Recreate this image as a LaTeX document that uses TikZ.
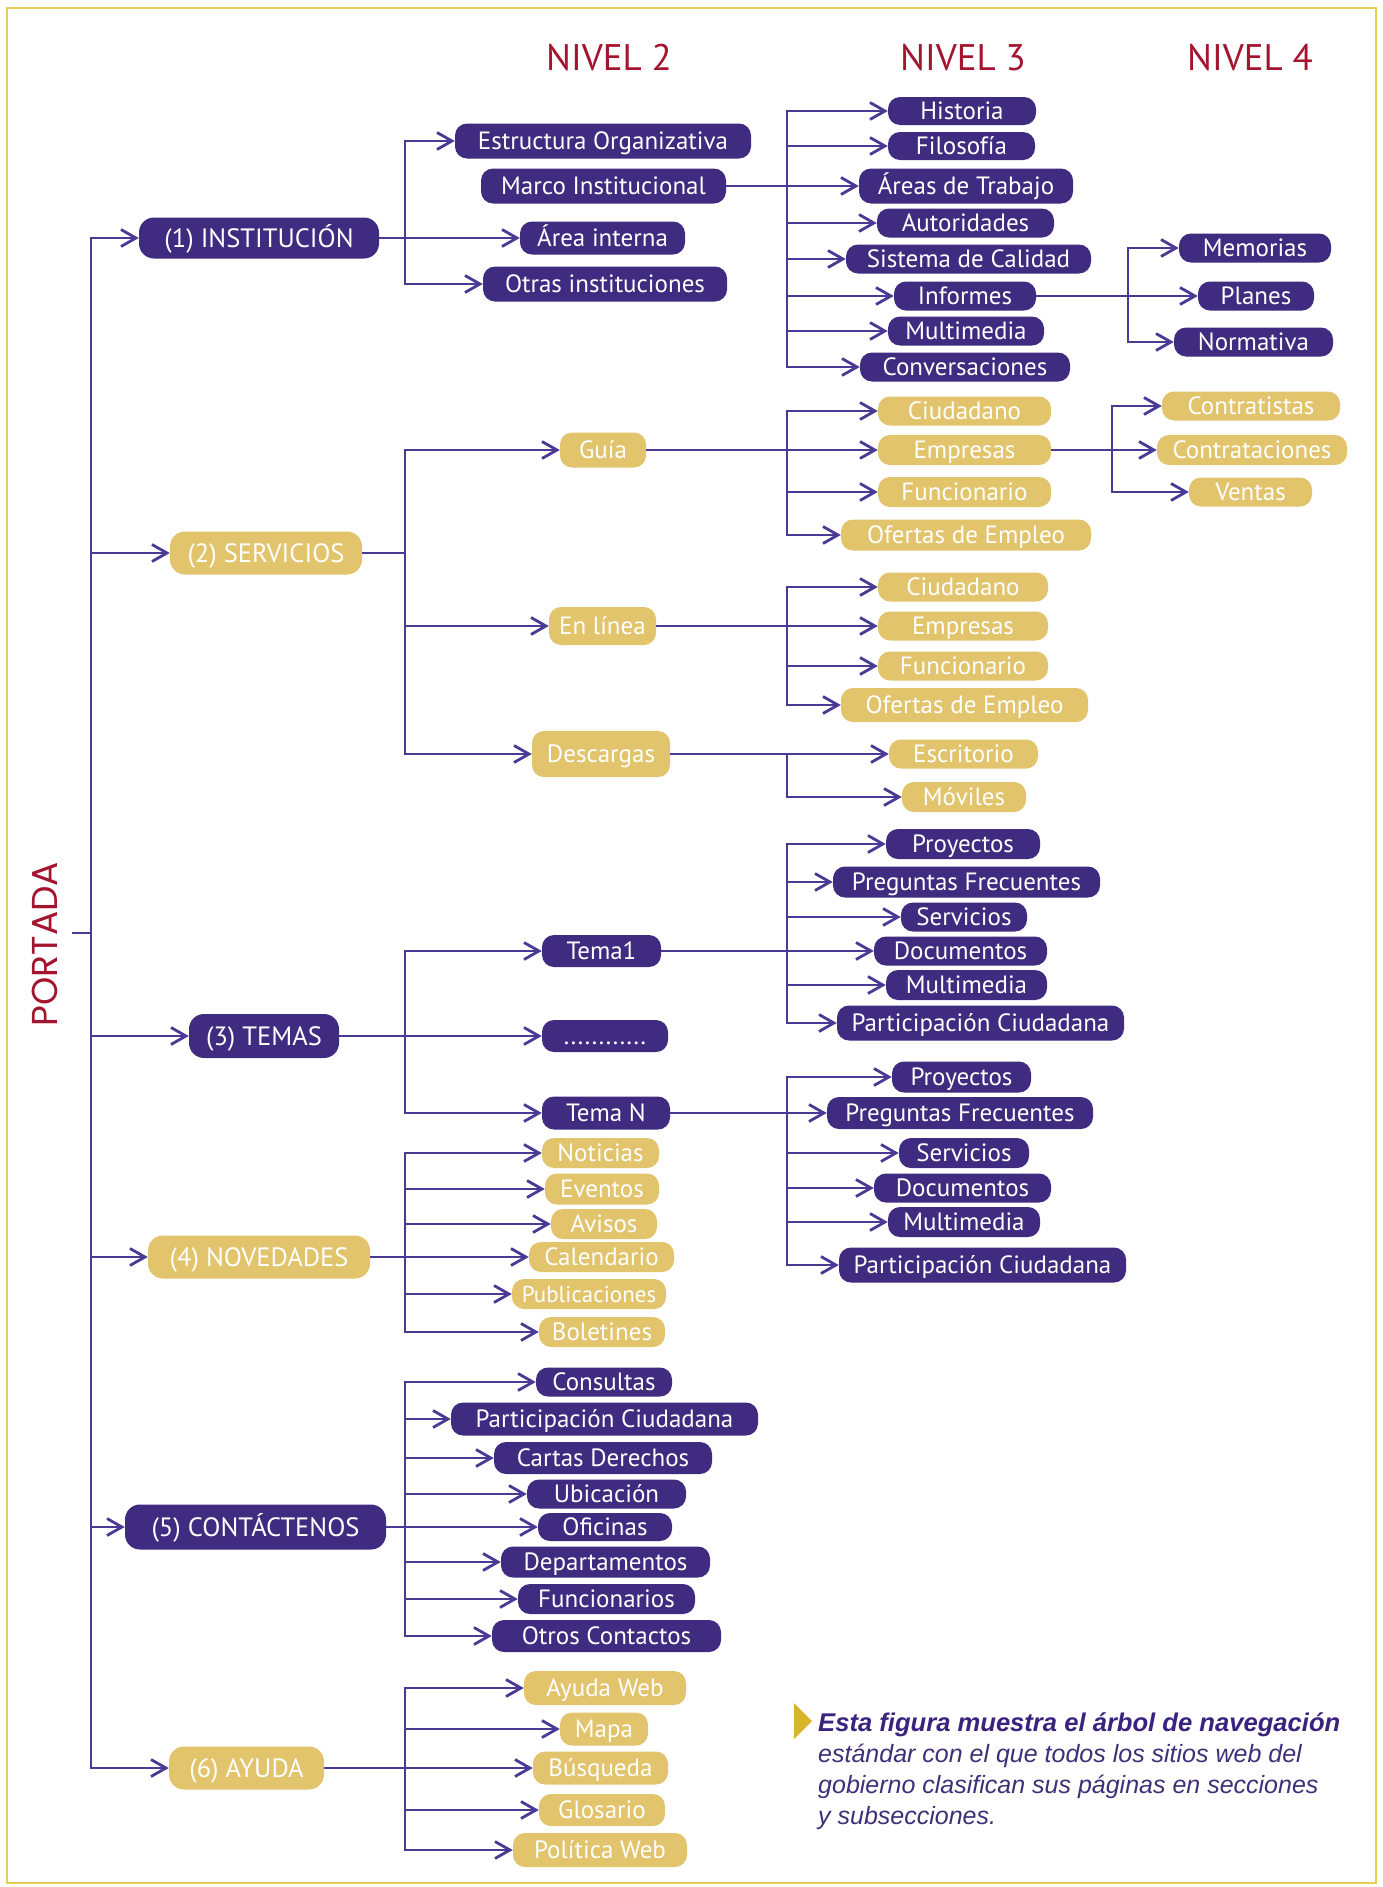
\documentclass[tikz,border=0pt]{standalone}
\usepackage{fontspec}
\setmainfont{PT Sans}
\newfontfamily\portfont{Poppins}
\newfontfamily\capfont{Liberation Sans}
\usetikzlibrary{arrows.meta}
\definecolor{pur}{HTML}{3F2B7F}
\definecolor{gld}{HTML}{E2C46C}
\definecolor{lin}{HTML}{4A3A96}
\definecolor{titred}{HTML}{A3152F}
\definecolor{brd}{HTML}{E6CD58}
\definecolor{tri}{HTML}{D8B428}
\definecolor{capa}{HTML}{3A237E}
\definecolor{capb}{HTML}{3F2F78}
\newcommand\Pill[7]{%
  \pgfmathsetmacro\pw{#4-#3}%
  \pgfmathsetmacro\pcx{(#3+#4)/2}%
  \node[#1, minimum width=\pw pt, minimum height=#6pt] (#2) at (\pcx,#5) {#7};}
\newcommand\Branch[4]{%
  \draw[con] (#1.east) -- (#1.east -| #2);
  \foreach \c in {#4} {\draw[arr] (\c.west -| #2) -- (\c.west);}
  \draw[con, line cap=rect] (#3);}
\tikzset{
  pill/.style={rounded corners=12pt, inner xsep=3pt, inner ysep=0pt, text=white,
    font=\fontsize{25}{25}\selectfont, text height=20pt, text depth=2.5pt},
  pp/.style={pill, fill=pur},
  pg/.style={pill, fill=gld},
  lone/.style={rounded corners=15pt, font=\fontsize{26.5}{26}\selectfont, text height=21pt, text depth=2.4pt},
  con/.style={draw=lin, line width=2.8pt},
  arr/.style={con, -{Straight Barb[length=15pt,width=17pt]}},
  niv/.style={text=titred, font=\fontsize{37}{37}\selectfont},
}
\begin{document}
\begin{tikzpicture}[x=1pt,y=-1pt]
\useasboundingbox (0,0) rectangle (1382,1887);
\fill[white] (0,0) rectangle (1382,1887);
\draw[brd, line width=2pt] (7,8) rectangle (1376,1883);

% titles
\node[niv] (n2) at (609,58) {NIVEL 2};
\node[niv] (n3) at (963,58) {NIVEL 3};
\node[niv] (n4) at (1250,58) {NIVEL 4};
\node[text=titred, rotate=90, font=\portfont\fontsize{36}{36}\selectfont] (portada) at (45,944) {PORTADA};

% trunk coordinates
\coordinate (bM) at (91,0);
\coordinate (bI) at (405,0);
\coordinate (b3) at (787,0);
\coordinate (b4a) at (1128,0);
\coordinate (b4b) at (1112,0);
\coordinate (tk) at (72,933);

% level 1
\Pill{pp,lone}{inst}{139}{379}{238}{41}{(1) INSTITUCIÓN}
\Pill{pg,lone}{serv}{170}{362}{553}{43}{(2) SERVICIOS}
\Pill{pp,lone}{tem}{189}{339}{1036}{44}{(3) TEMAS}
\Pill{pg,lone}{nov}{148}{370}{1257}{43}{(4) NOVEDADES}
\Pill{pp,lone}{con}{125}{386}{1527}{45}{(5) CONTÁCTENOS}
\Pill{pg,lone}{ayu}{169}{324}{1768}{43}{(6) AYUDA}

% institucion
\Pill{pp}{estr}{455}{751}{141}{35}{Estructura Organizativa}
\Pill{pp}{marco}{481}{726}{186}{35}{Marco Institucional}
\Pill{pp}{area}{520}{685}{238}{33}{Área interna}
\Pill{pp}{otras}{483}{727}{284}{35}{Otras instituciones}

\Pill{pp}{hist}{888}{1036}{111}{28}{Historia}
\Pill{pp}{filo}{888}{1035}{146}{28}{Filosofía}
\Pill{pp}{areas}{859}{1073}{186}{35}{Áreas de Trabajo}
\Pill{pp}{auto}{877}{1054}{223}{29}{Autoridades}
\Pill{pp}{sist}{846}{1091}{259}{29}{Sistema de Calidad}
\Pill{pp}{info}{894}{1036}{296}{29}{Informes}
\Pill{pp}{mult}{888}{1044}{331}{29}{Multimedia}
\Pill{pp}{conv}{860}{1070}{367}{29}{Conversaciones}

\Pill{pp}{memo}{1179}{1331}{248}{29}{Memorias}
\Pill{pp}{plan}{1198}{1314}{296}{29}{Planes}
\Pill{pp}{norm}{1174}{1333}{342}{29}{Normativa}

% servicios
\Pill{pg}{guia}{560}{646}{450}{35}{Guía}
\Pill{pg}{enli}{549}{656}{626}{38}{En línea}
\Pill{pg}{desc}{532}{670}{754}{46}{Descargas}

\Pill{pg}{gc}{878}{1051}{411}{29}{Ciudadano}
\Pill{pg}{ge}{878}{1051}{450}{30}{Empresas}
\Pill{pg}{gf}{878}{1051}{492}{30}{Funcionario}
\Pill{pg}{go}{841}{1091}{535}{31}{Ofertas de Empleo}

\Pill{pg}{ct}{1162}{1340}{406}{29}{Contratistas}
\Pill{pg}{cn}{1157}{1347}{450}{30}{Contrataciones}
\Pill{pg}{cv}{1189}{1312}{492}{29}{Ventas}

\Pill{pg}{ec}{878}{1048}{587}{29}{Ciudadano}
\Pill{pg}{ee}{878}{1048}{626}{29}{Empresas}
\Pill{pg}{ef}{878}{1048}{666}{29}{Funcionario}
\Pill{pg}{eo}{841}{1088}{705}{34}{Ofertas de Empleo}

\Pill{pg}{dda}{889}{1038}{754}{29}{Escritorio}
\Pill{pg}{ddb}{902}{1026}{797}{30}{Móviles}

% temas
\Pill{pp}{ta}{542}{661}{951}{32}{Tema1}
\Pill{pp}{tdots}{542}{668}{1036}{32}{............}
\Pill{pp}{tn}{542}{670}{1113}{33}{Tema N}

\Pill{pp}{aa}{886}{1040}{844}{30}{Proyectos}
\Pill{pp}{ab}{833}{1100}{882}{31}{Preguntas Frecuentes}
\Pill{pp}{ac}{901}{1027}{917}{29}{Servicios}
\Pill{pp}{ad}{874}{1047}{951}{29}{Documentos}
\Pill{pp}{ae}{886}{1047}{985}{30}{Multimedia}
\Pill{pp}{af}{837}{1124}{1023}{35}{Participación Ciudadana}

\Pill{pp}{ba}{892}{1031}{1077}{31}{Proyectos}
\Pill{pp}{bb}{827}{1093}{1113}{32}{Preguntas Frecuentes}
\Pill{pp}{bc}{899}{1029}{1153}{30}{Servicios}
\Pill{pp}{bd}{874}{1051}{1188}{29}{Documentos}
\Pill{pp}{be}{888}{1040}{1222}{30}{Multimedia}
\Pill{pp}{bf}{839}{1126}{1265}{35}{Participación Ciudadana}

% novedades
\Pill{pg}{na}{542}{659}{1153}{30}{Noticias}
\Pill{pg}{nb}{545}{659}{1189}{31}{Eventos}
\Pill{pg}{nc}{551}{657}{1224}{30}{Avisos}
\Pill{pg}{nd}{529}{674}{1257}{30}{Calendario}
\Pill{pg,font=\fontsize{23}{23}\selectfont}{ne}{512}{666}{1294}{30}{Publicaciones}
\Pill{pg}{nf}{539}{665}{1332}{30}{Boletines}

% contactenos
\Pill{pp}{ca}{536}{672}{1382}{29}{Consultas}
\Pill{pp}{cb}{451}{758}{1419}{33}{Participación Ciudadana}
\Pill{pp}{cc}{494}{712}{1458}{32}{Cartas Derechos}
\Pill{pp}{cd}{527}{686}{1494}{29}{Ubicación}
\Pill{pp}{ce}{538}{672}{1527}{28}{Oficinas}
\Pill{pp}{cf}{501}{710}{1562}{31}{Departamentos}
\Pill{pp}{cg}{518}{695}{1599}{30}{Funcionarios}
\Pill{pp}{ch}{492}{721}{1636}{32}{Otros Contactos}

% ayuda
\Pill{pg}{ya}{524}{686}{1688}{34}{Ayuda Web}
\Pill{pg}{yb}{560}{648}{1729}{33}{Mapa}
\Pill{pg}{yc}{533}{668}{1768}{33}{Búsqueda}
\Pill{pg}{yd}{539}{665}{1810}{32}{Glosario}
\Pill{pg}{ye}{513}{687}{1850}{34}{Política Web}

% connectors
\draw[con] (tk) -- (tk -| bM);
\draw[con, line cap=rect] (inst.west -| bM) -- (ayu.west -| bM);
\foreach \c in {inst,serv,tem,nov,con,ayu} {\draw[arr] (\c.west -| bM) -- (\c.west);}

\Branch{inst}{bI}{estr.west -| bI) -- (otras.west -| bI}{estr,area,otras}
\Branch{marco}{b3}{hist.west -| b3) -- (conv.west -| b3}{hist,filo,areas,auto,sist,info,mult,conv}
\Branch{info}{b4a}{memo.west -| b4a) -- (norm.west -| b4a}{memo,plan,norm}
\Branch{serv}{bI}{guia.west -| bI) -- (desc.west -| bI}{guia,enli,desc}
\Branch{guia}{b3}{gc.west -| b3) -- (go.west -| b3}{gc,ge,gf,go}
\Branch{ge}{b4b}{ct.west -| b4b) -- (cv.west -| b4b}{ct,cn,cv}
\Branch{enli}{b3}{ec.west -| b3) -- (eo.west -| b3}{ec,ee,ef,eo}
\Branch{desc}{b3}{dda.west -| b3) -- (ddb.west -| b3}{dda,ddb}
\Branch{tem}{bI}{ta.west -| bI) -- (tn.west -| bI}{ta,tdots,tn}
\Branch{ta}{b3}{aa.west -| b3) -- (af.west -| b3}{aa,ab,ac,ad,ae,af}
\Branch{tn}{b3}{ba.west -| b3) -- (bf.west -| b3}{ba,bb,bc,bd,be,bf}
\Branch{nov}{bI}{na.west -| bI) -- (nf.west -| bI}{na,nb,nc,nd,ne,nf}
\Branch{con}{bI}{ca.west -| bI) -- (ch.west -| bI}{ca,cb,cc,cd,ce,cf,cg,ch}
\Branch{ayu}{bI}{ya.west -| bI) -- (ye.west -| bI}{ya,yb,yc,yd,ye}

% caption
\fill[tri] (794,1703) -- (812,1721) -- (794,1739) -- cycle;
\node[anchor=base west, inner sep=0pt, text=capa, font=\capfont\bfseries\itshape\fontsize{25.6}{25}\selectfont] (capA) at (818,1731) {Esta figura muestra el árbol de navegación};
\node[anchor=base west, inner sep=0pt, text=capb, font=\capfont\itshape\fontsize{25}{25}\selectfont] (capB) at (818,1762) {estándar con el que todos los sitios web del};
\node[anchor=base west, inner sep=0pt, text=capb, font=\capfont\itshape\fontsize{25}{25}\selectfont] (capC) at (818,1793) {gobierno clasifican sus páginas en secciones};
\node[anchor=base west, inner sep=0pt, text=capb, font=\capfont\itshape\fontsize{25}{25}\selectfont] (capD) at (818,1824) {y subsecciones.};
\end{tikzpicture}
\end{document}
